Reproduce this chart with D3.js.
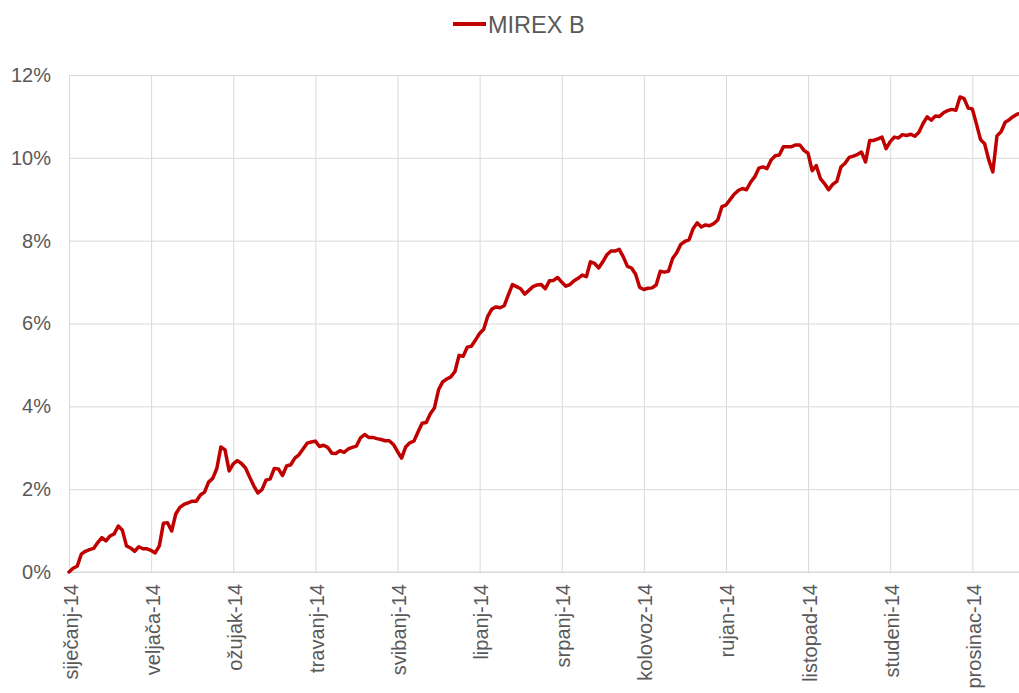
<!DOCTYPE html>
<html>
<head>
<meta charset="utf-8">
<script src="https://cdn.jsdelivr.net/npm/d3@7"></script>
<style>
    body { margin: 0; background: #fff; }
    svg { display: block; font-family: "Liberation Sans", Arial, sans-serif; }
</style>
</head>
<body>
<div id="chart"></div>
<script>
// Etiquetas de los meses (eje X)
const mjeseci = ["siječanj-14", "veljača-14", "ožujak-14", "travanj-14", "svibanj-14", "lipanj-14",
    "srpanj-14", "kolovoz-14", "rujan-14", "listopad-14", "studeni-14", "prosinac-14"];

// Ticks del eje Y (en %)
const yTicks = [0, 2, 4, 6, 8, 10, 12];

// Nombre de la serie
const serieNombre = "MIREX B";

// Rendimiento acumulado (%), ~20 puntos por mes
const mirexB = [
    0.00, 0.09, 0.14, 0.43, 0.50, 0.54, 0.57, 0.71, 0.83, 0.75,
    0.87, 0.92, 1.11, 1.01, 0.63, 0.58, 0.50, 0.61, 0.56, 0.56,
    0.52, 0.46, 0.63, 1.18, 1.19, 0.99, 1.40, 1.56, 1.63, 1.67,
    1.71, 1.71, 1.86, 1.93, 2.17, 2.26, 2.50, 3.02, 2.95, 2.44,
    2.61, 2.69, 2.62, 2.51, 2.29, 2.08, 1.91, 1.99, 2.22, 2.25,
    2.50, 2.49, 2.33, 2.56, 2.59, 2.75, 2.83, 2.97, 3.11, 3.14,
    3.16, 3.03, 3.06, 3.01, 2.87, 2.86, 2.93, 2.89, 2.97, 3.01,
    3.04, 3.24, 3.32, 3.25, 3.25, 3.22, 3.20, 3.17, 3.17, 3.08,
    2.91, 2.75, 3.02, 3.12, 3.16, 3.38, 3.59, 3.61, 3.82, 3.96,
    4.40, 4.59, 4.66, 4.71, 4.84, 5.23, 5.21, 5.43, 5.45, 5.60,
    5.76, 5.86, 6.18, 6.35, 6.40, 6.38, 6.43, 6.69, 6.94, 6.89,
    6.84, 6.71, 6.80, 6.89, 6.93, 6.94, 6.84, 7.03, 7.04, 7.11,
    7.00, 6.90, 6.94, 7.03, 7.09, 7.17, 7.13, 7.49, 7.45, 7.34,
    7.49, 7.66, 7.75, 7.75, 7.79, 7.61, 7.38, 7.34, 7.19, 6.87,
    6.82, 6.85, 6.86, 6.93, 7.26, 7.24, 7.26, 7.57, 7.71, 7.91,
    7.98, 8.02, 8.29, 8.43, 8.33, 8.38, 8.36, 8.41, 8.50, 8.82,
    8.86, 8.99, 9.12, 9.21, 9.26, 9.23, 9.41, 9.54, 9.75, 9.78,
    9.74, 9.95, 10.05, 10.07, 10.27, 10.27, 10.27, 10.31, 10.31, 10.18,
    10.11, 9.69, 9.81, 9.50, 9.38, 9.23, 9.36, 9.43, 9.78, 9.87,
    10.01, 10.04, 10.08, 10.14, 9.90, 10.42, 10.42, 10.46, 10.50, 10.22,
    10.39, 10.50, 10.48, 10.56, 10.54, 10.57, 10.52, 10.62, 10.83, 10.99,
    10.91, 11.01, 11.00, 11.09, 11.14, 11.17, 11.15, 11.47, 11.43, 11.20,
    11.18, 10.82, 10.44, 10.34, 9.95, 9.66, 10.53, 10.63, 10.86, 10.92,
    11.00, 11.06, 11.07
];

const PUNTOS_POR_MES = 20;

function renderLineChart() {
    const width = 1019;
    const height = 693;
    const margin = { top: 75, left: 69, bottom: 121 };
    const mesAncho = 82.12;

    const svg = d3.select("#chart")
        .append("svg")
        .attr("width", width)
        .attr("height", height);

    // Escalas
    const x = d3.scaleLinear()
        .domain([0, mjeseci.length * PUNTOS_POR_MES])
        .range([margin.left, margin.left + mjeseci.length * mesAncho]);

    const y = d3.scaleLinear()
        .domain([0, 12])
        .range([height - margin.bottom, margin.top]);

    const gridColor = "#d9d9d9";

    // Rejilla horizontal + etiquetas Y
    const gy = svg.append("g")
        .attr("transform", `translate(${margin.left},0)`)
        .call(d3.axisLeft(y)
            .tickValues(yTicks)
            .tickSize(-(x.range()[1] - margin.left))
            .tickPadding(18)
            .tickFormat(d => d + "%"));
    gy.select(".domain").remove();
    gy.selectAll(".tick line").attr("stroke", gridColor);
    gy.selectAll(".tick text")
        .attr("fill", "#595959")
        .style("font-size", "20px")
        .style("font-family", "'Liberation Sans', Arial, sans-serif");

    // Rejilla vertical (inicio de cada mes) + etiquetas X
    const mesTicks = mjeseci.map((m, i) => i * PUNTOS_POR_MES);
    const gx = svg.append("g")
        .attr("transform", `translate(0,${height - margin.bottom})`)
        .call(d3.axisBottom(x)
            .tickValues(mesTicks)
            .tickSize(-(height - margin.bottom - margin.top))
            .tickFormat((d, i) => mjeseci[i]));
    gx.select(".domain")
        .attr("stroke", gridColor)
        .attr("d", `M${margin.left},0H${width}`);
    gx.selectAll(".tick line").attr("stroke", gridColor);
    gx.selectAll(".tick text")
        .attr("fill", "#595959")
        .style("font-size", "20px")
        .style("font-family", "'Liberation Sans', Arial, sans-serif")
        .attr("text-anchor", "end")
        .attr("transform", "rotate(-90)")
        .attr("x", -12)
        .attr("y", 0)
        .attr("dy", "0.4em");

    // Línea de la serie
    const line = d3.line()
        .x((d, i) => x(i))
        .y(d => y(d));

    svg.append("path")
        .datum(mirexB)
        .attr("fill", "none")
        .attr("stroke", "#c00000")
        .attr("stroke-width", 3.5)
        .attr("stroke-linejoin", "round")
        .attr("stroke-linecap", "round")
        .attr("d", line);

    // Leyenda
    const leg = svg.append("g").attr("transform", "translate(453,24)");
    leg.append("line")
        .attr("x1", 0).attr("x2", 33)
        .attr("y1", 0).attr("y2", 0)
        .attr("stroke", "#c00000")
        .attr("stroke-width", 4);
    leg.append("text")
        .attr("x", 35)
        .attr("y", 9)
        .attr("fill", "#595959")
        .style("font-size", "23.5px")
        .text(serieNombre);
}

document.addEventListener("DOMContentLoaded", renderLineChart);
</script>
</body>
</html>
